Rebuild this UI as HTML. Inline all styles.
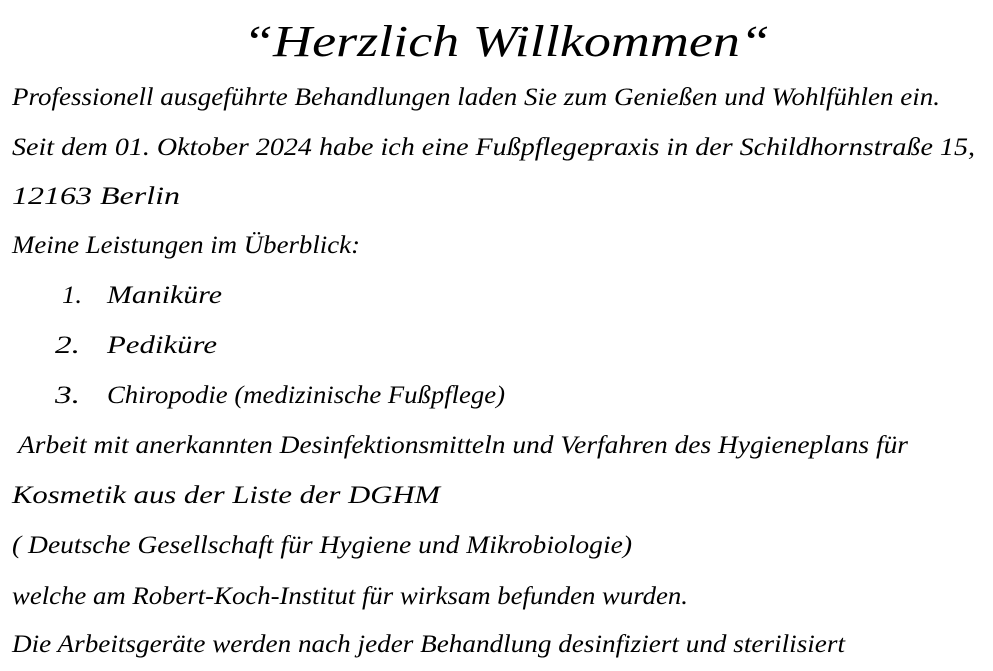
<!DOCTYPE html>
<html><head><meta charset="utf-8"><style>
html,body{margin:0;padding:0;background:#fff;}
svg{display:block}
text{font-family:"Liberation Serif",serif;font-style:italic;fill:#000;}
</style></head><body>
<svg width="993" height="671" viewBox="0 0 993 671" xmlns="http://www.w3.org/2000/svg">
<text x="243" y="56" font-size="44" textLength="527" lengthAdjust="spacingAndGlyphs">“Herzlich Willkommen“</text>
<text x="12" y="105" font-size="25" textLength="928" lengthAdjust="spacingAndGlyphs">Professionell ausgeführte Behandlungen laden Sie zum Genießen und Wohlfühlen ein.</text>
<text x="12" y="155" font-size="25" textLength="963" lengthAdjust="spacingAndGlyphs">Seit dem 01. Oktober 2024  habe ich  eine Fußpflegepraxis in der Schildhornstraße 15,</text>
<text x="12" y="204" font-size="25" textLength="168" lengthAdjust="spacingAndGlyphs">12163 Berlin</text>
<text x="12" y="253" font-size="25" textLength="348" lengthAdjust="spacingAndGlyphs">Meine Leistungen im Überblick:</text>
<text x="62" y="303" font-size="25" textLength="20" lengthAdjust="spacingAndGlyphs">1.</text>
<text x="107" y="303" font-size="25" textLength="115" lengthAdjust="spacingAndGlyphs">Maniküre</text>
<text x="55" y="353" font-size="25" textLength="25" lengthAdjust="spacingAndGlyphs">2.</text>
<text x="107" y="353" font-size="25" textLength="110" lengthAdjust="spacingAndGlyphs">Pediküre</text>
<text x="55" y="403" font-size="25" textLength="25" lengthAdjust="spacingAndGlyphs">3.</text>
<text x="107" y="403" font-size="25" textLength="398" lengthAdjust="spacingAndGlyphs">Chiropodie (medizinische Fußpflege)</text>
<text x="18" y="453" font-size="25" textLength="890" lengthAdjust="spacingAndGlyphs">Arbeit mit anerkannten Desinfektionsmitteln und Verfahren des Hygieneplans für</text>
<text x="12" y="503" font-size="25" textLength="428" lengthAdjust="spacingAndGlyphs">Kosmetik aus der Liste der DGHM</text>
<text x="12" y="553" font-size="25" textLength="620" lengthAdjust="spacingAndGlyphs">( Deutsche Gesellschaft für Hygiene und Mikrobiologie)</text>
<text x="12" y="604" font-size="25" textLength="676" lengthAdjust="spacingAndGlyphs">welche am Robert-Koch-Institut für wirksam befunden wurden.</text>
<text x="12" y="652" font-size="25" textLength="833" lengthAdjust="spacingAndGlyphs">Die Arbeitsgeräte werden nach jeder Behandlung desinfiziert und sterilisiert</text>
</svg>
</body></html>
